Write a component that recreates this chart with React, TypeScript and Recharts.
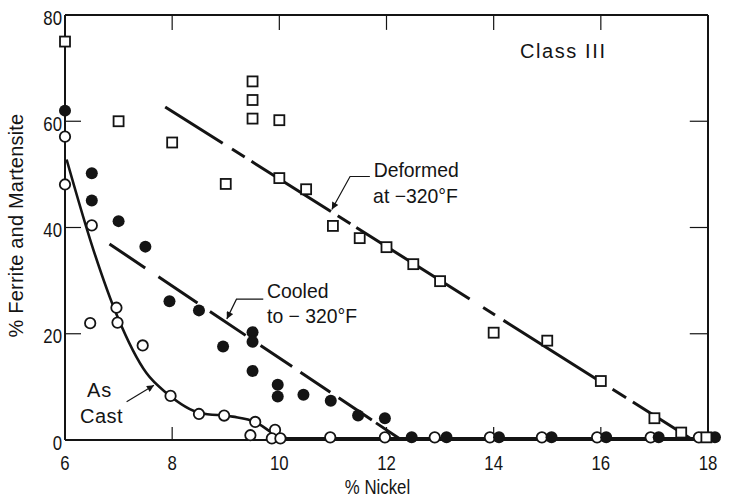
import React from 'react'
import { ComposedChart, Line, Scatter, XAxis, YAxis, ReferenceDot, ReferenceLine } from 'recharts'

// Deformed at -320F (open squares)
const deformedNi = [6, 7, 8, 9, 9.5, 9.5, 9.5, 10, 10, 10.5, 11, 11.5, 12, 12.5, 13, 14, 15, 16, 17, 17.5, 17.97]
const deformedPct = [75, 60, 56, 48.2, 67.5, 64, 60.5, 60.2, 49.3, 47.2, 40.3, 38, 36.3, 33.1, 29.9, 20.2, 18.7, 11.1, 4.1, 1.4, 0.5]

// Cooled to -320F (filled circles)
const cooledNi = [6, 6.5, 6.5, 7, 7.5, 7.95, 8.5, 8.95, 9.5, 9.5, 9.5, 9.97, 9.97, 10.45, 10.96, 11.47, 11.97, 12.47, 13.12, 14.1, 15.08, 16.1, 17.08, 18.13]
const cooledPct = [62, 50.2, 45.1, 41.2, 36.4, 26.1, 24.4, 17.6, 20.3, 18.5, 13, 10.4, 8.2, 8.5, 7.4, 4.6, 4.1, 0.5, 0.5, 0.5, 0.5, 0.5, 0.5, 0.5]

// As cast (open circles)
const castNi = [6, 6, 6.5, 6.47, 6.96, 6.98, 7.45, 7.97, 8.5, 8.97, 9.55, 9.46, 9.92, 9.86, 10.02, 10.95, 11.97, 12.9, 13.93, 14.9, 15.93, 16.93, 17.83]
const castPct = [57.1, 48.1, 40.4, 22, 24.9, 22.1, 17.8, 8.3, 4.9, 4.6, 3.4, 0.9, 1.9, 0.3, 0.3, 0.5, 0.5, 0.5, 0.5, 0.5, 0.5, 0.5, 0.5]

// fitted lines / curve
const deformedFitNi = [7.87, 17.72]
const deformedFitPct = [62.7, 0]
const cooledFitNi = [6.83, 12.28]
const cooledFitPct = [36.9, 0]
const castCurveNi = [6.03, 6.53, 6.98, 7.52, 7.9, 8.52, 9.13, 9.55, 9.95, 10.2, 17.9]
const castCurvePct = [52.8, 35.8, 23.2, 12.6, 8.8, 5.1, 4.4, 3.4, 0.9, 0.3, 0.3]

// leader lines for the notes
const deformedLeadNi = [11.69, 11.32, 10.98]
const deformedLeadPct = [49.6, 49.6, 43.4]
const cooledLeadNi = [9.7, 9.2, 9.02]
const cooledLeadPct = [26.5, 26.5, 22.8]
const castLeadNi = [7.15, 7.66]
const castLeadPct = [7.2, 10.3]

const xTicks = [6, 8, 10, 12, 14, 16, 18]
const yTicks = [0, 20, 40, 60, 80]
const innerX = [8, 10, 12, 14, 16]
const innerY = [20, 40, 60]
const X_MIN = 6
const X_MAX = 18

type Pt = { x: number; y: number }
const zip = (xs: number[], ys: number[]): Pt[] => xs.map((x, i) => ({ x, y: ys[i] }))
// markers that touch the box edges would be clipped by the plot area, so they are drawn unclipped
const atEdge = (p: Pt) => p.x < X_MIN + 0.15 || p.x > X_MAX - 0.15 || p.y < 1.2
const inside = (pts: Pt[]) => pts.filter((p) => !atEdge(p))
const edge = (pts: Pt[]) => pts.filter(atEdge)

const INK = '#141414'
const FONT = "'Liberation Sans', Arial, sans-serif"

const OpenCircle = (p: any) => <circle cx={p.cx} cy={p.cy} r={5.2} fill="#fff" stroke={INK} strokeWidth={1.8} />
const FilledCircle = (p: any) => <circle cx={p.cx} cy={p.cy} r={6} fill={INK} />
const OpenSquare = (p: any) => (
  <rect x={p.cx - 5} y={p.cy - 5} width={10} height={10} fill="#fff" stroke={INK} strokeWidth={1.8} />
)

// condensed text: horizontal squeeze around the anchor point
const Squeezed = ({ x, y, sx = 1, anchor = 'start', dy = 0, spacing = 0, size = 20, children }: any) => (
  <g transform={`translate(${x},${y}) scale(${sx},1)`}>
    <text x={0} y={dy} textAnchor={anchor} fill={INK} fontFamily={FONT} fontSize={size} letterSpacing={spacing}>
      {children}
    </text>
  </g>
)

const note = (text: string, sx = 0.97, spacing = 0) => (p: any) => (
  <Squeezed x={p.cx} y={p.cy} sx={sx} spacing={spacing}>{text}</Squeezed>
)

const BottomTick = (p: any) => (
  <Squeezed x={p.x} y={p.y} sx={0.84} anchor="middle" dy={14.5}>{p.payload.value}</Squeezed>
)
const LeftTick = (p: any) => (
  <Squeezed x={p.x} y={p.y} sx={0.84} anchor="end" dy={9.5}>{p.payload.value}</Squeezed>
)

const frame = { stroke: INK, strokeWidth: 2 }
const tickMark = { stroke: INK, strokeWidth: 1.2 }

export default function App() {
  const cast = zip(castNi, castPct)
  const cooled = zip(cooledNi, cooledPct)
  const deformed = zip(deformedNi, deformedPct)
  const groups: [Pt[], (p: any) => React.ReactElement, string][] = [
    [cast, OpenCircle, 'c'],
    [cooled, FilledCircle, 'f'],
    [deformed, OpenSquare, 's'],
  ]
  return (
    <div style={{ width: 731, height: 497, background: '#fff' }}>
      <style>{'body{margin:0}'}</style>
      <ComposedChart width={731} height={497} margin={{ top: 15, right: 23, left: 0, bottom: 0 }}>
        <defs>
          <marker id="arrowHead" viewBox="0 0 10 10" refX="10" refY="5" markerWidth="9" markerHeight="7"
            orient="auto" markerUnits="userSpaceOnUse">
            <path d="M0,0 L10,5 L0,10 z" fill={INK} />
          </marker>
        </defs>
        <XAxis type="number" dataKey="x" domain={[X_MIN, X_MAX]} ticks={xTicks} allowDataOverflow
          axisLine={frame} tickLine={tickMark} tickSize={-13} tickMargin={28} height={57} tick={<BottomTick />}
          label={({ viewBox }: any) => (
            <Squeezed x={viewBox.x + viewBox.width / 2 - 9} y={viewBox.y + 54} sx={0.8} size={21} anchor="middle">
              % Nickel
            </Squeezed>
          )} />
        <YAxis type="number" dataKey="y" domain={[0, 80]} ticks={yTicks} allowDataOverflow width={65}
          axisLine={frame} tickLine={tickMark} tickSize={-16} tickMargin={19} tick={<LeftTick />}
          label={({ viewBox }: any) => {
            const cx = viewBox.x + 16
            const cy = viewBox.y + viewBox.height / 2 - 2
            return (
              <text x={cx} y={cy} transform={`rotate(-90 ${cx} ${cy})`} textAnchor="middle"
                dominantBaseline="central" fill={INK} fontFamily={FONT} fontSize={20} letterSpacing={0.2}>
                % Ferrite and Martensite
              </text>
            )
          }} />

        {/* top and right edges of the box, with inward ticks */}
        <ReferenceLine y={80} stroke={INK} strokeWidth={2} />
        <ReferenceLine x={X_MAX} stroke={INK} strokeWidth={2} />
        {innerX.map((v) => (
          <ReferenceLine key={'tx' + v} segment={[{ x: v, y: 80 }, { x: v, y: 77.2 }]} stroke={INK} strokeWidth={1.2} />
        ))}
        {innerY.map((v) => (
          <ReferenceLine key={'ty' + v} segment={[{ x: X_MAX, y: v }, { x: 17.66, y: v }]} stroke={INK} strokeWidth={1.2} />
        ))}

        <Line data={zip(deformedFitNi, deformedFitPct)} dataKey="y" stroke={INK} strokeWidth={3} dot={false}
          strokeDasharray="68 11 15 8 94 8 15 7 134 16 14 10 113 16 16 8 71" isAnimationActive={false} />
        <Line data={zip(cooledFitNi, cooledFitPct)} dataKey="y" stroke={INK} strokeWidth={3} dot={false}
          strokeDasharray="43 16 47 15 43 18 38 10 36 10 40 5 31" isAnimationActive={false} />
        <Line data={zip(castCurveNi, castCurvePct)} dataKey="y" type="monotone" stroke={INK} strokeWidth={2.6}
          dot={false} isAnimationActive={false} />

        <Line data={zip(deformedLeadNi, deformedLeadPct)} dataKey="y" stroke={INK} strokeWidth={1.2} dot={false}
          markerEnd="url(#arrowHead)" isAnimationActive={false} />
        <Line data={zip(cooledLeadNi, cooledLeadPct)} dataKey="y" stroke={INK} strokeWidth={1.2} dot={false}
          markerEnd="url(#arrowHead)" isAnimationActive={false} />
        <Line data={zip(castLeadNi, castLeadPct)} dataKey="y" stroke={INK} strokeWidth={1.2} dot={false}
          markerEnd="url(#arrowHead)" isAnimationActive={false} />

        <Scatter data={inside(cast)} shape={OpenCircle} isAnimationActive={false} />
        <Scatter data={inside(cooled)} shape={FilledCircle} isAnimationActive={false} />
        <Scatter data={inside(deformed)} shape={OpenSquare} isAnimationActive={false} />
        {groups.map(([pts, shape, k]) =>
          edge(pts).map((p, i) => (
            <ReferenceDot key={k + i} x={p.x} y={p.y} ifOverflow="visible" shape={shape} />
          ))
        )}

        <ReferenceDot x={14.49} y={71.9} r={0} shape={note('Class III', 1, 1.6)} />
        <ReferenceDot x={11.76} y={49.6} r={0} shape={note('Deformed')} />
        <ReferenceDot x={11.75} y={44.6} r={0} shape={note('at −320°F')} />
        <ReferenceDot x={9.77} y={26.7} r={0} shape={note('Cooled')} />
        <ReferenceDot x={9.77} y={22} r={0} shape={note('to − 320°F')} />
        <ReferenceDot x={6.41} y={8.1} r={0} shape={note('As', 1, 1)} />
        <ReferenceDot x={6.28} y={3.2} r={0} shape={note('Cast', 1, 0.5)} />
      </ComposedChart>
    </div>
  )
}
